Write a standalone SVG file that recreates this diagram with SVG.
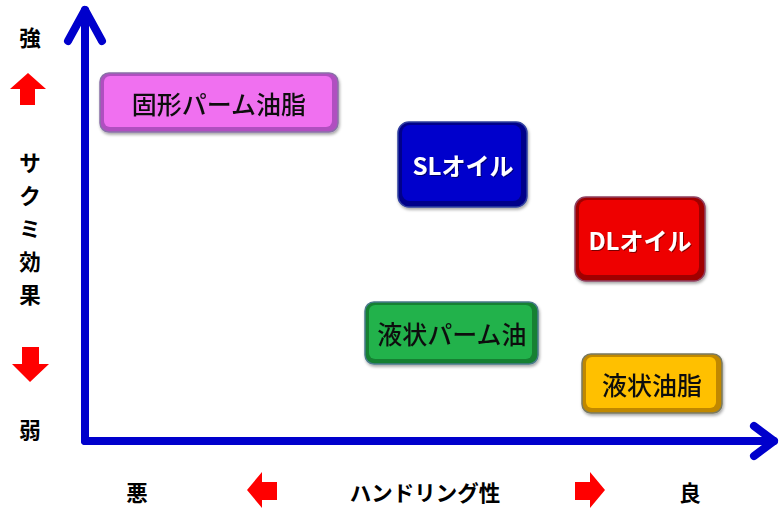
<svg xmlns="http://www.w3.org/2000/svg" width="780" height="511" viewBox="0 0 780 511">
<defs>
<style>
.lbl{font-family:"Noto Sans CJK JP","Liberation Sans",sans-serif;font-weight:700;font-size:21.5px;fill:#000;text-anchor:middle;dominant-baseline:central}
.bt{font-family:"Noto Sans CJK JP","Liberation Sans",sans-serif;font-weight:500;font-size:25px;fill:#111;text-anchor:middle;dominant-baseline:central}
.wt{font-family:"Noto Sans CJK JP","Liberation Sans",sans-serif;font-weight:700;font-size:24px;fill:#fff;text-anchor:middle;dominant-baseline:central}
.ax{stroke:#0000CC;stroke-width:8;fill:none;stroke-linecap:round;stroke-linejoin:round}
.ra{fill:#FF0000}
</style>
<filter id="sh" x="-10%" y="-10%" width="120%" height="130%">
<feDropShadow dx="1" dy="2" stdDeviation="1.5" flood-color="#000" flood-opacity="0.35"/>
</filter>
<filter id="ts" x="-10%" y="-20%" width="120%" height="140%">
<feDropShadow dx="1" dy="1" stdDeviation="0.6" flood-color="#000" flood-opacity="0.5"/>
</filter>
</defs>

<g id="connectors">
<polyline class="ax" points="85,441 85,10"/>
<polyline class="ax" points="68,41 85,10 102,41"/>
<polyline class="ax" points="85,441 774,441"/>
<polyline class="ax" points="754,426 774,441 754,456"/>
</g>

<g id="y-axis-labels">
<text class="lbl" x="30" y="36">強</text>
<polygon class="ra" points="28,73 46,89 35,89 35,105 20,105 20,89 10,89"/>
<text class="lbl" x="30" y="161">サ</text>
<text class="lbl" x="30" y="194">ク</text>
<text class="lbl" x="30" y="227">ミ</text>
<text class="lbl" x="30" y="260">効</text>
<text class="lbl" x="30" y="293">果</text>
<polygon class="ra" points="22,347 39,347 39,364 49,364 30,382 12,364 22,364"/>
<text class="lbl" x="30" y="428">弱</text>
</g>

<g id="x-axis-labels">
<text class="lbl" x="137" y="491">悪</text>
<polygon class="ra" points="247,490 262,472 262,482 277,482 277,500 262,500 262,508"/>
<text class="lbl" x="425" y="491">ハンドリング性</text>
<polygon class="ra" points="605,490 590,472 590,482 575,482 575,500 590,500 590,508"/>
<text class="lbl" x="690" y="491">良</text>
</g>

<g id="node-kokei" filter="url(#sh)">
<rect x="100" y="73" width="238" height="59" rx="9" fill="#B050C0" stroke="#8A70A8" stroke-width="1.5"/>
<rect x="104" y="76" width="228" height="51" rx="6" fill="#F070F0"/>
<text class="bt" x="219" y="103">固形パーム油脂</text>
</g>

<g id="node-sl" filter="url(#sh)">
<rect x="398" y="122" width="129" height="85" rx="11" fill="#00008A" stroke="#3040A0" stroke-width="1.5"/>
<rect x="402" y="125" width="119" height="76" rx="8" fill="#0000CC"/>
<text class="wt" x="463" y="164" filter="url(#ts)">SLオイル</text>
</g>

<g id="node-dl" filter="url(#sh)">
<rect x="575" y="197" width="130" height="84" rx="11" fill="#A00000" stroke="#904060" stroke-width="1.5"/>
<rect x="579" y="200" width="120" height="75" rx="8" fill="#EE0000"/>
<text class="wt" x="640" y="239" filter="url(#ts)">DLオイル</text>
</g>

<g id="node-ekijo-palm" filter="url(#sh)">
<rect x="365" y="302" width="173" height="62" rx="9" fill="#128030" stroke="#4A7A8A" stroke-width="1.5"/>
<rect x="369" y="305" width="163" height="54" rx="6" fill="#22B24C"/>
<text class="bt" x="452" y="333">液状パーム油</text>
</g>

<g id="node-ekijo" filter="url(#sh)">
<rect x="582" y="354" width="140" height="59" rx="9" fill="#C08800" stroke="#7A7A60" stroke-width="1.5"/>
<rect x="586" y="357" width="130" height="51" rx="6" fill="#FFC000"/>
<text class="bt" x="652" y="384">液状油脂</text>
</g>
</svg>
